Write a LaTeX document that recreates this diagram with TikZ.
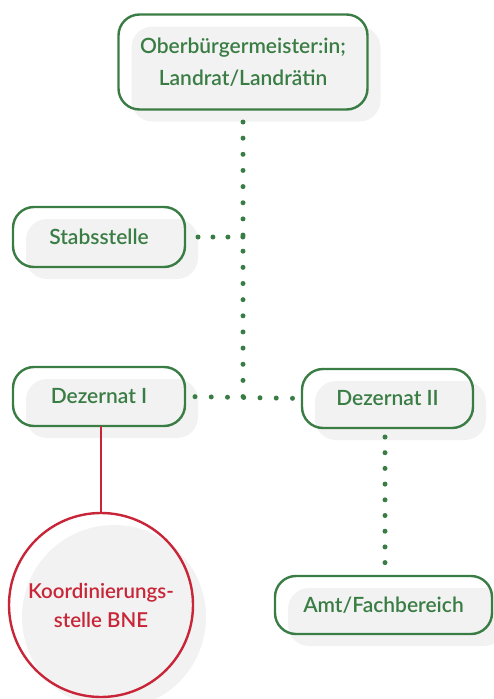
\documentclass[tikz,border=0pt]{standalone}
\usepackage{fontspec}
\setmainfont{Lato}[BoldFont={Lato Semibold}]
\usetikzlibrary{shadows}
\definecolor{orggreen}{RGB}{58,125,68}
\definecolor{orgred}{RGB}{200,38,56}
\definecolor{shade}{RGB}{242,242,242}
\tikzset{
  unitbox/.style={draw=orggreen, line width=2.4pt, rounded corners=21pt,
    text=orggreen, font=\bfseries\fontsize{21}{32}\selectfont, align=center,
    inner sep=0pt, outer sep=0pt,
    general shadow={fill=shade, shadow xshift=13pt, shadow yshift=-12pt}},
  bnecircle/.style={circle, draw=orgred, line width=2.4pt, text=orgred,
    font=\bfseries\fontsize{20.5}{29}\selectfont, align=center, inner sep=0pt,
    outer sep=0pt, minimum size=184pt,
    general shadow={fill=shade, shadow xshift=13pt, shadow yshift=-12pt}},
  dotlink/.style={draw=orggreen, line width=5pt, line cap=round},
  solidlink/.style={draw=orgred, line width=2.4pt}
}
\begin{document}
\begin{tikzpicture}[x=1pt, y=-1pt]
\useasboundingbox (0,0) rectangle (493,699);

\node[unitbox, minimum width=249pt, minimum height=95pt] (top) at (243,62)
  {\raisebox{-3pt}{Oberbürgermeister:in;}\\\raisebox{-3pt}{Landrat/Landrätin}};
\node[unitbox, minimum width=172pt, minimum height=60pt] (stab) at (99,237) {Stabsstelle};
\node[unitbox, minimum width=172pt, minimum height=59pt] (dez1) at (99,396.5) {Dezernat I};
\node[unitbox, minimum width=171pt, minimum height=59pt] (dez2) at (387.5,398.5) {Dezernat II};
\node[unitbox, minimum width=217pt, minimum height=58pt] (amt) at (383.5,605) {Amt/Fachbereich};
\node[bnecircle] (bne) at (101,605) {Koordinierungs-\\stelle BNE};

\coordinate (join) at (243,397);
\coordinate (stabjoin) at (243,237);

% vertical dotted line from the top box down to the crossing
\draw[dotlink, dash pattern=on 0pt off 16.15pt, shorten <=12.5pt] (top.south) -- (join);
% staff unit branch
\draw[dotlink, dash pattern=on 0pt off 14.95pt, shorten <=13pt] (stab.east) -- (stabjoin);
% departments
\draw[dotlink, dash pattern=on 0pt off 16.25pt, shorten <=10pt, shorten >=9pt] (dez1.east) -- (dez2.west);
\draw[dotlink, dash pattern=on 0pt off 15.7pt, shorten <=9pt, shorten >=13pt]
  ([xshift=-2.5pt]dez2.south) -- ([xshift=1.5pt]amt.north);
% coordination office
\draw[solidlink] (dez1.south -| bne.north) -- (bne.north);
\end{tikzpicture}
\end{document}
